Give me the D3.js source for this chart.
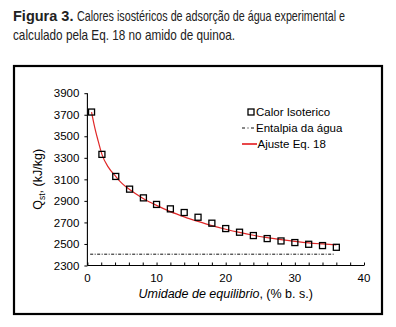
<!DOCTYPE html>
<html>
<head>
<meta charset="utf-8">
<script src="https://cdn.jsdelivr.net/npm/d3@7"></script>
<style>
  body { margin: 0; background: #fff; }
  svg { display: block; }
</style>
</head>
<body>
<div id="chart"></div>
<script>
// measured points (Calor Isoterico)
const moisture = [0.6, 2.1, 4.1, 6.1, 8.1, 10, 12, 14, 16, 18, 20, 22, 24, 26, 28, 30, 32, 34, 36];
const heat = [3725, 3332, 3127, 3009, 2928, 2867, 2826, 2792, 2748, 2693, 2643, 2609, 2578, 2550, 2528, 2513, 2497, 2485, 2469];

// fitted curve (Ajuste Eq. 18)
const fitX = [0.6, 1, 1.5, 2.1, 3, 4.1, 5, 6.1, 8, 10, 12, 14, 16, 18, 20, 22, 24, 26, 28, 30, 32, 34, 36];
const fitY = [3725, 3600, 3470, 3332, 3216, 3127, 3062, 3005, 2925, 2858, 2800, 2752, 2710, 2671, 2637, 2607, 2581, 2559, 2540, 2524, 2510, 2500, 2491];

// water enthalpy (Entalpia da água)
const waterX = [0.4, 35.8];
const waterH = 2405;

const xTicks = [0, 10, 20, 30, 40];
const yTicks = [2300, 2500, 2700, 2900, 3100, 3300, 3500, 3700, 3900];
const legendLabels = ['Calor Isoterico', 'Entalpia da água', 'Ajuste Eq. 18'];

const width = 396, height = 327;
const font = '"Liberation Sans", Arial, sans-serif';

const svg = d3.select('#chart').append('svg')
  .attr('width', width)
  .attr('height', height);

// caption
const cap = svg.append('g')
  .attr('font-family', '"Liberation Sans Narrow", "Arial Narrow", sans-serif')
  .attr('font-size', 14.5)
  .attr('fill', '#222');
const capBold = cap.append('text').attr('x', 13).attr('y', 21)
  .attr('font-weight', 'bold')
  .text('Figura 3.');
const boldW = capBold.node().getComputedTextLength();
cap.append('text').attr('x', 13 + boldW + 3.5).attr('y', 21)
  .attr('textLength', 332 - boldW - 3.5).attr('lengthAdjust', 'spacingAndGlyphs')
  .text('Calores isostéricos de adsorção de água experimental e');
cap.append('text').attr('x', 13).attr('y', 40)
  .attr('textLength', 222).attr('lengthAdjust', 'spacingAndGlyphs')
  .text('calculado pela Eq. 18 no amido de quinoa.');

// frame
svg.append('rect')
  .attr('x', 14).attr('y', 66)
  .attr('width', 368).attr('height', 248)
  .attr('fill', 'none')
  .attr('stroke', '#000')
  .attr('stroke-width', 2.2);

const x = d3.scaleLinear().domain([0, 40]).range([87.4, 364]);
const y = d3.scaleLinear().domain([2300, 3900]).range([265.5, 93.2]);

// x axis: ticks every 2 units pointing up
const xAxis = svg.append('g')
  .attr('transform', `translate(0,${y(2300)})`)
  .call(d3.axisBottom(x).tickValues(d3.range(0, 41, 2)).tickSize(-3).tickFormat(''));
xAxis.select('.domain').attr('d', `M${x(0)},0H${x(40)}`).attr('stroke-width', 1.1);
xAxis.selectAll('.tick line').attr('stroke-width', 1);

svg.append('g')
  .attr('font-family', font)
  .attr('font-size', 11.5)
  .attr('text-anchor', 'middle')
  .selectAll('text')
  .data(xTicks)
  .join('text')
  .attr('x', d => x(d))
  .attr('y', y(2300) + 16)
  .text(d => d);

// y axis
const yAxis = svg.append('g')
  .attr('transform', `translate(${x(0)},0)`)
  .call(d3.axisLeft(y).tickValues(yTicks).tickFormat(d3.format('d')).tickSize(3).tickPadding(5));
yAxis.select('.domain').attr('d', `M0,${y(2300)}V${y(3900)}`).attr('stroke-width', 1.1);
yAxis.selectAll('text')
  .attr('font-family', font)
  .attr('font-size', 11.5)
  .attr('fill', '#000');

// axis titles
const xt = svg.append('text')
  .attr('x', (x(0) + x(40)) / 2)
  .attr('y', 298)
  .attr('text-anchor', 'middle')
  .attr('font-family', font)
  .attr('font-size', 12.5);
xt.append('tspan').attr('font-style', 'italic').text('Umidade de equilibrio');
xt.append('tspan').text(', (% b. s.)');

const yt = svg.append('text')
  .attr('transform', `translate(42,${(y(2300) + y(3900)) / 2}) rotate(-90)`)
  .attr('text-anchor', 'middle')
  .attr('font-family', font)
  .attr('font-size', 12.5);
yt.append('tspan').text('Q');
yt.append('tspan').attr('font-size', 8.5).attr('dy', 3).text('st');
yt.append('tspan').attr('dy', -3).text(', (kJ/kg)');

// water enthalpy line
svg.append('line')
  .attr('x1', x(waterX[0])).attr('x2', x(waterX[1]))
  .attr('y1', y(waterH)).attr('y2', y(waterH))
  .attr('stroke', '#111')
  .attr('stroke-width', 1)
  .attr('stroke-dasharray', '3,1.5,1,1.5');

// fit curve
const fitData = fitX.map((d, i) => [d, fitY[i]]);
svg.append('path')
  .datum(fitData)
  .attr('fill', 'none')
  .attr('stroke', '#e02828')
  .attr('stroke-width', 1.2)
  .attr('d', d3.line().x(d => x(d[0])).y(d => y(d[1])).curve(d3.curveMonotoneX));

// measured squares
const sq = 6;
svg.append('g')
  .selectAll('rect')
  .data(moisture.map((d, i) => [d, heat[i]]))
  .join('rect')
  .attr('x', d => x(d[0]) - sq / 2)
  .attr('y', d => y(d[1]) - sq / 2)
  .attr('width', sq)
  .attr('height', sq)
  .attr('fill', 'none')
  .attr('stroke', '#000')
  .attr('stroke-width', 1.3);

// legend
const lg = svg.append('g').attr('transform', 'translate(242,112)');
lg.append('rect')
  .attr('x', 6).attr('y', -3)
  .attr('width', 6).attr('height', 6)
  .attr('fill', 'none').attr('stroke', '#000').attr('stroke-width', 1.3);
lg.append('line')
  .attr('x1', 0).attr('x2', 12).attr('y1', 16).attr('y2', 16)
  .attr('stroke', '#111').attr('stroke-width', 1)
  .attr('stroke-dasharray', '3,2.5,1,2.5');
lg.append('line')
  .attr('x1', 0).attr('x2', 15).attr('y1', 32).attr('y2', 32)
  .attr('stroke', '#e8474a').attr('stroke-width', 2);
lg.selectAll('.lbl')
  .data(legendLabels)
  .join('text')
  .attr('class', 'lbl')
  .attr('x', (d, i) => i === 2 ? 15.5 : 14)
  .attr('y', (d, i) => i * 16 + 4)
  .attr('font-family', font)
  .attr('font-size', 11.5)
  .text(d => d);
</script>
</body>
</html>
